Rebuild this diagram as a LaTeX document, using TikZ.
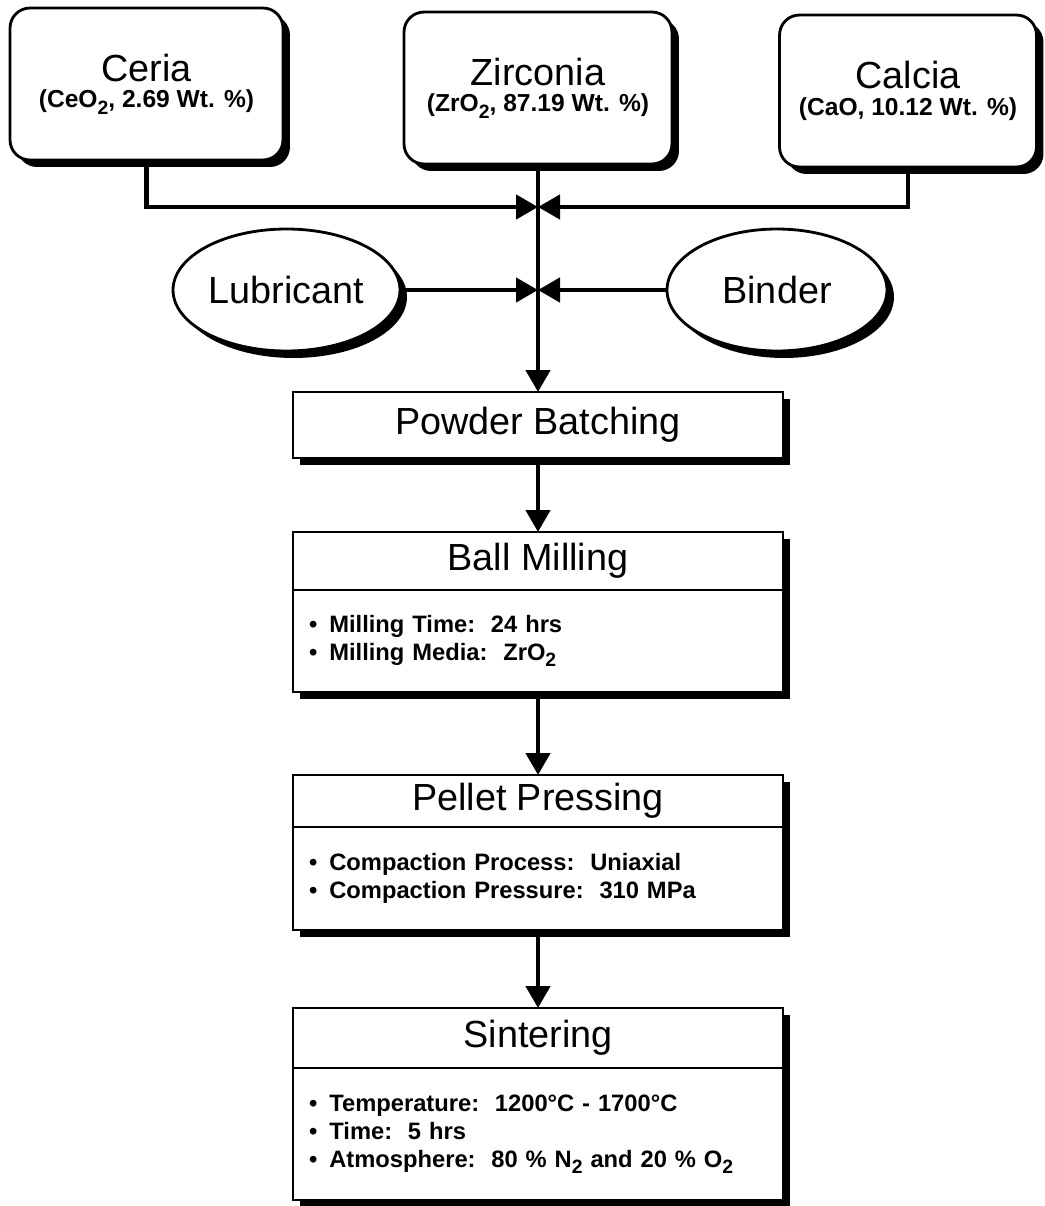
\documentclass[tikz,border=0pt]{standalone}
\usepackage{fontspec}
\setmainfont{Liberation Sans}
\usetikzlibrary{positioning,shapes.geometric,shadows,arrows.meta}
\newcommand{\bitem}{\textbullet\hspace{0.24cm}}
\newcommand{\oxfont}{\bfseries\fontsize{14}{15}\selectfont}
\newcommand{\sbs}[1]{\raisebox{-0.5ex}{\fontsize{11}{11}\selectfont #1}}
\begin{document}
\begin{tikzpicture}[
    x=0.02cm, y=-0.02cm,
    boxshadow/.style={drop shadow={shadow xshift=0.14cm, shadow yshift=-0.14cm, opacity=1, fill=black}},
    material/.style={rectangle, draw, line width=1.6pt, rounded corners=0.4cm, fill=white, boxshadow, minimum height=3.04cm, align=center, font=\fontsize{21.5}{15}\selectfont},
    additive/.style={ellipse, draw, line width=1.6pt, fill=white, boxshadow, inner sep=0pt, minimum height=2.44cm, font=\fontsize{21.5}{25}\selectfont},
    stage/.style={rectangle, draw, line width=1.6pt, fill=white, boxshadow, outer sep=0pt, minimum width=9.8cm, minimum height=1.2cm, font=\fontsize{21.5}{25}\selectfont},
    detail/.style={stage, text width=9.16cm, inner xsep=0.32cm, align=left, font=\bfseries\fontsize{13.5}{16}\selectfont},
    arrow/.style={-{Triangle[length=0.44cm, width=0.48cm]}, line width=2.6pt}
]
\useasboundingbox (0,0) rectangle (1044,1206);

% Raw oxide powders
\node[material, minimum width=5.46cm] (ceria) at (146.5,84) {Ceria\\{\oxfont (CeO\sbs{2}, 2.69 Wt. \%)}};
\node[material, minimum width=5.36cm] (zirconia) at (538,88) {Zirconia\\{\oxfont (ZrO\sbs{2}, 87.19 Wt. \%)}};
\node[material, minimum width=5.14cm] (calcia) at (908,91) {Calcia\\{\oxfont (CaO, 10.12 Wt. \%)}};

% Additives
\node[additive, minimum width=4.54cm] (lubricant) at (286.5,290) {Lubricant};
\node[additive, minimum width=4.4cm] (binder) at (777,290) {Binder};

% Mixing points
\coordinate (oxides) at (538,207);
\coordinate (additives) at (538,290);

% Processing steps
\node[stage, minimum height=1.32cm] (batching) at (538,425) {Powder Batching};

\node[stage, minimum height=1.16cm] (milling) at (538,561) {Ball Milling};
\node[detail, minimum height=2.04cm, below=0pt of milling] (millinfo)
    {\bitem Milling Time:~~24 hrs\\
     \bitem Milling Media:~~ZrO\sbs{2}};

\node[stage, minimum height=1.04cm] (pressing) at (538,801) {Pellet Pressing};
\node[detail, minimum height=2.06cm, below=0pt of pressing] (pressinfo)
    {\bitem Compaction Process:~~Uniaxial\\
     \bitem Compaction Pressure:~~310 MPa};

\node[stage, minimum height=1.2cm] (sintering) at (538,1038) {Sintering};
\node[detail, minimum height=2.64cm, below=0pt of sintering] (sintinfo)
    {\bitem Temperature:~~1200°C - 1700°C\\
     \bitem Time:~~5 hrs\\
     \bitem Atmosphere:~~80 \% N\sbs{2} and 20 \% O\sbs{2}};

% Feed lines
\draw[arrow] (ceria.south) |- (oxides);
\draw[arrow] (calcia.south) |- (oxides);
\draw[arrow] (lubricant) -- (additives);
\draw[arrow] (binder) -- (additives);
\draw[arrow] (zirconia) -- (batching);

% Process flow
\draw[arrow] (batching) -- (milling);
\draw[arrow] (millinfo) -- (pressing);
\draw[arrow] (pressinfo) -- (sintering);

\end{tikzpicture}
\end{document}
